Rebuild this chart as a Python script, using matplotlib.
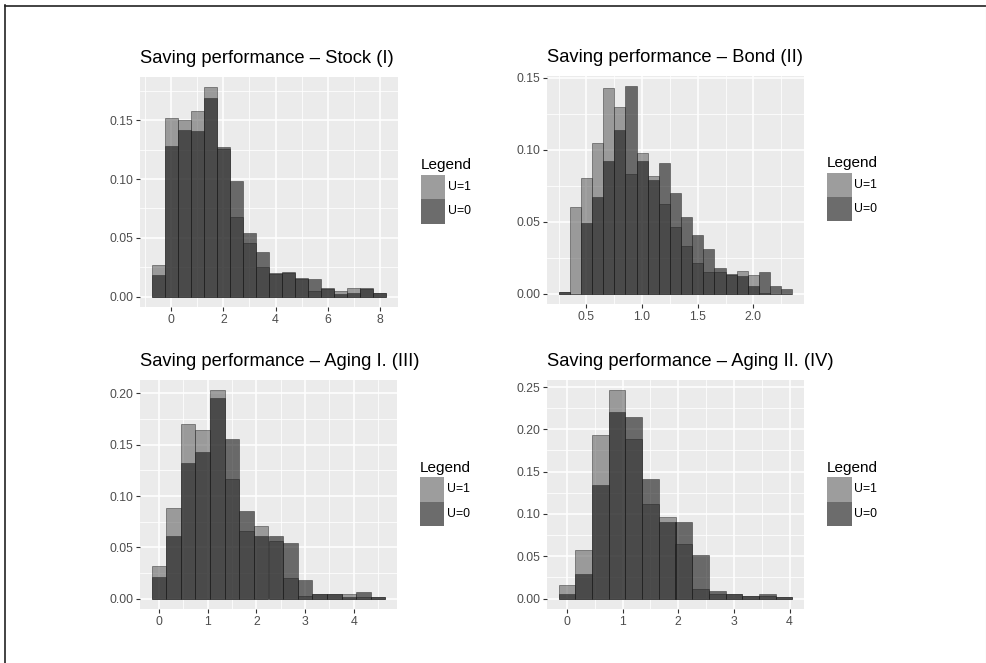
import matplotlib
matplotlib.use("Agg")
import matplotlib.pyplot as plt
from matplotlib.lines import Line2D
from matplotlib.patches import Rectangle
from matplotlib.ticker import MultipleLocator, FormatStrFormatter

plt.rcParams['font.family'] = ['Liberation Sans', 'DejaVu Sans']

W, H = 987, 663

# ---------------- data ----------------
legend_labels = ["U=1", "U=0"]

stock_title = "Saving performance – Stock (I)"
stock_x = [-0.5, 0.0, 0.5, 1.0, 1.5, 2.0, 2.5, 3.0, 3.5, 4.0, 4.5, 5.0, 5.5, 6.0, 6.5, 7.0, 7.5, 8.0]
stock_u1 = [0.027, 0.152, 0.150, 0.158, 0.178, 0.126, 0.068, 0.046, 0.025, 0.019, 0.020, 0.0146, 0.005, 0.006, 0.0046, 0.0077, 0.006, 0.003]
stock_u0 = [0.018, 0.128, 0.142, 0.141, 0.169, 0.127, 0.098, 0.054, 0.038, 0.020, 0.021, 0.016, 0.015, 0.007, 0.002, 0.003, 0.0069, 0.0034]

bond_title = "Saving performance – Bond (II)"
bond_x = [0.3, 0.4, 0.5, 0.6, 0.7, 0.8, 0.9, 1.0, 1.1, 1.2, 1.3, 1.4, 1.5, 1.6, 1.7, 1.8, 1.9, 2.0, 2.1, 2.2, 2.3]
bond_u1 = [0.001, 0.060, 0.080, 0.105, 0.143, 0.130, 0.083, 0.098, 0.082, 0.062, 0.046, 0.033, 0.021, 0.015, 0.015, 0.013, 0.016, 0.013, 0.0005, 0.0, 0.0]
bond_u0 = [0.001, 0.0, 0.049, 0.067, 0.092, 0.114, 0.144, 0.092, 0.079, 0.091, 0.070, 0.053, 0.041, 0.031, 0.018, 0.0135, 0.0123, 0.0055, 0.015, 0.0056, 0.003]

aging1_title = "Saving performance – Aging I. (III)"
aging1_x = [0.0, 0.3, 0.6, 0.9, 1.2, 1.5, 1.8, 2.1, 2.4, 2.7, 3.0, 3.3, 3.6, 3.9, 4.2, 4.5]
aging1_u1 = [0.032, 0.088, 0.170, 0.164, 0.203, 0.117, 0.066, 0.071, 0.056, 0.020, 0.003, 0.004, 0.004, 0.004, 0.002, 0.002]
aging1_u0 = [0.021, 0.061, 0.132, 0.143, 0.196, 0.156, 0.085, 0.061, 0.061, 0.054, 0.018, 0.004, 0.004, 0.002, 0.006, 0.002]

aging2_title = "Saving performance – Aging II. (IV)"
aging2_x = [0.0, 0.3, 0.6, 0.9, 1.2, 1.5, 1.8, 2.1, 2.4, 2.7, 3.0, 3.3, 3.6, 3.9]
aging2_u1 = [0.016, 0.057, 0.193, 0.246, 0.188, 0.112, 0.096, 0.065, 0.0115, 0.006, 0.005, 0.003, 0.003, 0.002]
aging2_u0 = [0.006, 0.029, 0.134, 0.220, 0.214, 0.141, 0.090, 0.090, 0.051, 0.0095, 0.0055, 0.003, 0.006, 0.002]

# ---------------- style ----------------
ALPHA = 0.62
C_U1 = 0.41
C_U0 = 0.10
KEY_BG = 0.95
PANEL_BG = "#EBEBEB"


def grey(v):
    return (v, v, v)


def key_col(c):
    v = ALPHA * c + (1 - ALPHA) * KEY_BG
    return (v, v, v)


fig = plt.figure(figsize=(W / 100, H / 100), dpi=100)


def fbox(l, t, r, b):
    return [l / W, 1 - b / H, (r - l) / W, (b - t) / H]


panels = [
    dict(box=(140, 77, 398, 307), x=stock_x, u1=stock_u1, u0=stock_u0, w=0.5,
         title=stock_title, xmaj=2, xmin=1, ymaj=0.05, xfmt="%d"),
    dict(box=(547, 76, 804, 304), x=bond_x, u1=bond_u1, u0=bond_u0, w=0.1,
         title=bond_title, xmaj=0.5, xmin=0.25, ymaj=0.05, xfmt="%.1f"),
    dict(box=(140, 380, 397, 609), x=aging1_x, u1=aging1_u1, u0=aging1_u0, w=0.3,
         title=aging1_title, xmaj=1, xmin=0.5, ymaj=0.05, xfmt="%d"),
    dict(box=(547, 380, 804, 609), x=aging2_x, u1=aging2_u1, u0=aging2_u0, w=0.3,
         title=aging2_title, xmaj=1, xmin=0.5, ymaj=0.05, xfmt="%d"),
]

for p in panels:
    l, t, r, b = p["box"]
    ax = fig.add_axes(fbox(l, t, r, b))
    ax.set_facecolor(PANEL_BG)
    x, w = p["x"], p["w"]
    ax.bar(x, p["u1"], width=w, color=grey(C_U1), alpha=ALPHA,
           edgecolor=(0.12, 0.12, 0.12, 0.9), linewidth=0.5, zorder=2)
    ax.bar(x, p["u0"], width=w, color=grey(C_U0), alpha=ALPHA,
           edgecolor=(0.12, 0.12, 0.12, 0.9), linewidth=0.5, zorder=3)
    x0, x1 = min(x) - w / 2, max(x) + w / 2
    ex = 0.05 * (x1 - x0)
    ax.set_xlim(x0 - ex, x1 + ex)
    ymax = max(max(p["u1"]), max(p["u0"]))
    ax.set_ylim(-0.05 * ymax, 1.05 * ymax)
    ax.xaxis.set_major_locator(MultipleLocator(p["xmaj"]))
    ax.xaxis.set_minor_locator(MultipleLocator(p["xmin"]))
    ax.yaxis.set_major_locator(MultipleLocator(p["ymaj"]))
    ax.yaxis.set_minor_locator(MultipleLocator(p["ymaj"] / 2))
    ax.xaxis.set_major_formatter(FormatStrFormatter(p["xfmt"]))
    ax.yaxis.set_major_formatter(FormatStrFormatter("%.2f"))
    ax.grid(which="major", color="white", linewidth=1.1, zorder=0)
    ax.grid(which="minor", color="white", linewidth=0.55, zorder=0)
    ax.set_axisbelow(True)
    for s in ax.spines.values():
        s.set_visible(False)
    ax.tick_params(which="major", length=2.75, width=0.8, color="#333333",
                   labelsize=8.8, labelcolor="#4D4D4D", pad=2.2)
    ax.tick_params(which="minor", length=0)
    ax.set_title(p["title"], loc="left", fontsize=13.2, color="black", pad=10)

    # legend (ggplot style, right of panel, vertically centred)
    lx = r + 23
    cy = (t + b) / 2 - 1
    key = 24.5
    ktop = cy - key + 8
    fig.text(lx / W, 1 - (ktop - 5) / H, "Legend", fontsize=11, color="black",
             ha="left", va="baseline")
    for i, (lab, c) in enumerate(zip(legend_labels, [C_U1, C_U0])):
        ky = ktop + i * key
        fig.add_artist(Rectangle((lx / W, 1 - (ky + key) / H), key / W, key / H,
                                 transform=fig.transFigure, facecolor=key_col(c),
                                 edgecolor="none"))
        fig.text((lx + key + 3) / W, 1 - (ky + key / 2) / H, lab, fontsize=8.8,
                 color="black", ha="left", va="center")

# frame around the image
fig.add_artist(Line2D([5 / W, 986 / W], [1 - 5.5 / H, 1 - 5.5 / H], transform=fig.transFigure,
                      color="#222222", linewidth=1.2))
fig.add_artist(Line2D([5.5 / W, 5.5 / W], [1 - 5 / H, 0], transform=fig.transFigure,
                      color="#222222", linewidth=1.2))
fig.add_artist(Line2D([986 / W, 986 / W], [1 - 5 / H, 0], transform=fig.transFigure,
                      color="#CCCCCC", linewidth=0.8))

fig.savefig("out.png", dpi=100)
